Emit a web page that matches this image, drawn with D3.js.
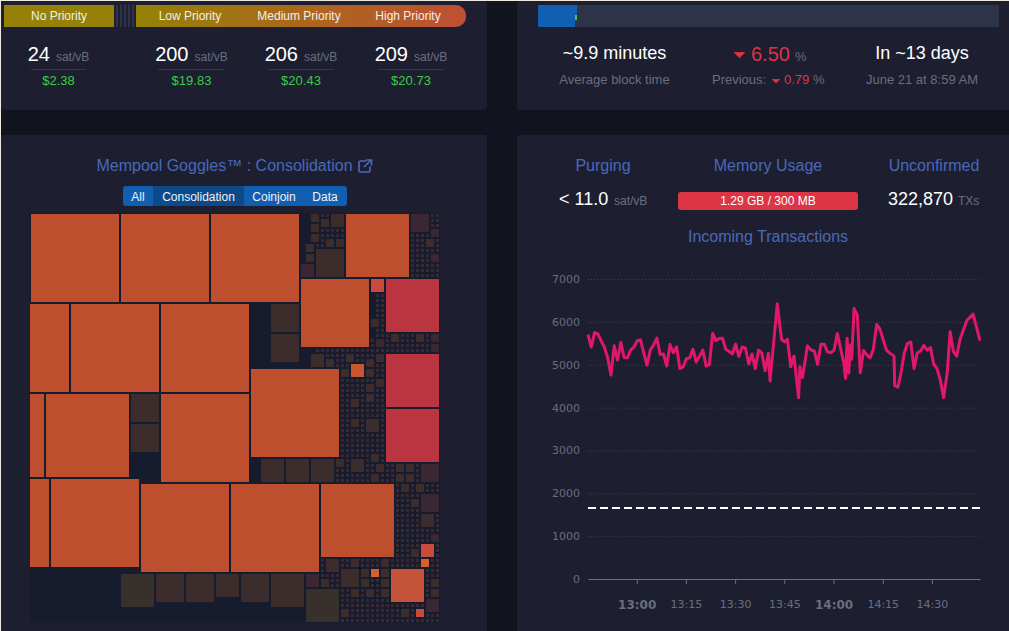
<!DOCTYPE html>
<html>
<head>
<meta charset="utf-8">
<script src="https://cdn.jsdelivr.net/npm/d3@7/dist/d3.min.js"></script>
<style>
  html, body { margin: 0; padding: 0; background: #11131f; overflow: hidden; }
  svg { display: block; font-family: "Liberation Sans", Arial, sans-serif; }
</style>
</head>
<body>
<script>
// fee estimates
const priorityLabels = ['No Priority', 'Low Priority', 'Medium Priority', 'High Priority'];
const feeRates = [24, 200, 206, 209];
const feeDollars = ['$2.38', '$19.83', '$20.43', '$20.73'];

// goggles blocks, in grid units: column, row, side and colour class
const blockCols = [0, 18, 36, 63, -10, 8, 26, -14, 3, 26, 44, 54, 71, 71, 71, -14, 4, 22, 40, 58,
  68, 64, 78, 78, 68, 72, 77,
  18, 25, 31, 37, 42, 48, 55, 55, 46, 51, 56, 48, 48, 20, 20, 57, 54, 55, 55, 56, 56, 56, 58, 60, 59, 61,
  76, 80, 79, 80, 68, 69, 72, 77, 80, 80, 56, 59, 63, 67, 69, 62, 67, 69, 67, 64, 67,
  64, 67, 61, 64, 68, 69, 73, 75, 78, 68, 73, 75, 74, 77, 76, 78, 78, 80, 76, 59, 64, 70,
  62, 66, 70, 66, 70, 58, 80, 80, 64, 67, 70, 79, 62, 74];
const blockRows = [0, 0, 0, 0, 18, 18, 18, 36, 36, 36, 31, 13, 13, 28, 39, 53, 53, 54, 54, 54,
  13, 30, 66, 69, 71, 71, 79,
  72, 72, 72, 72, 72, 72, 72, 75, 49, 49, 49, 18, 24, 36, 42, 7, 10, 6, 8, 0, 2, 4, 1, 0, 5, 5,
  0, 3, 5, 8, 21, 25, 24, 24, 24, 26, 28, 29, 28, 29, 28, 31, 31, 33, 34, 37, 36,
  41, 41, 49, 49, 48, 50, 50, 50, 50, 52, 52, 52, 54, 54, 57, 56, 60, 64, 67, 69, 69, 69,
  71, 71, 71, 73, 73, 73, 73, 75, 75, 75, 75, 77, 79, 79];
const blockSides = [18, 18, 18, 13, 18, 18, 18, 17, 17, 18, 18, 14, 11, 11, 11, 18, 18, 18, 18, 15,
  3, 3, 3, 2, 2, 7, 2,
  7, 6, 6, 5, 6, 7, 3, 7, 5, 5, 5, 6, 6, 6, 6, 6, 3, 2, 2, 2, 2, 2, 2, 3, 2, 2,
  4, 2, 2, 2, 2, 2, 2, 2, 2, 2, 3, 2, 2, 2, 2, 2, 2, 2, 2, 2, 2,
  2, 3, 2, 3, 2, 2, 2, 2, 4, 2, 2, 2, 2, 2, 2, 4, 3, 2, 2, 3, 2, 2,
  4, 2, 2, 2, 2, 2, 2, 2, 2, 2, 2, 3, 2, 2];
const blockKinds = ['o', 'o', 'o', 'o', 'o', 'o', 'o', 'o', 'o', 'o', 'o', 'o', 'r', 'r', 'r', 'o', 'o', 'o', 'o', 'o',
  'h', 'k', 'h', 'a', 'a', 'm', 'h',
  'g', 'b', 'b', 'b', 'b', 'b', 'p', 'g', 'b', 'b', 'b', 'b', 'b', 'b', 'b', 'b', 'p', 'b', 'b', 'b', 'b', 'b', 'b', 'b', 'b', 'b',
  'p', 'p', 'b', 'p', 'b', 'p', 'b', 'b', 'p', 'p', 'b', 'b', 'b', 'b', 'b', 'b', 'b', 'b', 'b', 'b', 'b',
  'b', 'b', 'b', 'b', 'b', 'b', 'b', 'b', 'p', 'b', 'b', 'b', 'b', 'b', 'b', 'p', 'b', 'p', 'b', 'b', 'b', 'b',
  'b', 'b', 'b', 'b', 'b', 'b', 'b', 'b', 'b', 'b', 'b', 'p', 'b', 'b'];

// stretches of the grid filled with one-unit transactions: first col, first row, last col, last row
const tinyStretches = [[58, 0, 62, 6], [57, 6, 57, 6], [76, 0, 81, 12], [69, 16, 70, 27], [68, 25, 68, 27],
  [71, 24, 81, 27], [57, 27, 70, 27], [62, 28, 70, 53], [59, 28, 61, 30], [61, 49, 61, 53], [71, 50, 81, 53],
  [73, 54, 81, 68], [58, 69, 81, 81]];
const tinyOlive = ['76,9', '78,5', '78,9', '79,10', '65,29', '74,58'];
const tinyPurple = ['62,34', '62,35', '62,42', '62,43', '62,44', '62,45', '59,72', '60,72', '63,77', '79,11'];

// incoming transactions, minutes after the left edge of the axis and vB/s
const sampleMinutes = [0, 1, 2, 3, 4, 5, 6, 7, 8, 9, 10, 11, 12, 13, 14, 15, 16, 17, 18, 19, 20, 21, 22, 23, 24, 25, 26, 27, 28, 29,
  30, 31, 32, 33, 35, 36, 37, 38, 39, 40, 41, 42, 43, 44, 45, 46, 47, 48, 49, 50, 51, 52, 53, 54, 55, 55.5, 57.7,
  59, 60, 60.8, 61.8, 62.8, 64.2, 64.6, 65.4, 66.9, 68, 69, 70, 71, 72, 73, 74, 75, 76, 77, 78, 78.5, 79, 79.5, 80, 80.4, 81.1, 82.1,
  83, 84, 85, 86, 87, 88, 89, 90, 91, 92, 93.3, 93.5, 94.5, 95.5, 96.4, 97.4, 98.4, 99.4, 100.4, 101.4, 102.4, 103.4, 104.4, 105.4,
  106.4, 107.4, 108.4, 109.5, 110.4, 111.4, 112.4, 113.4, 115.5, 117.4, 119.5];
const sampleRates = [5700, 5410, 5750, 5720, 5560, 5410, 5160, 4760, 5440, 5110, 5520, 5170, 5160, 5340, 5410, 5560, 5580, 5270, 4990, 5340,
  5460, 5620, 5240, 5250, 4970, 5470, 5280, 5420, 4910, 4950, 5140, 5160, 5360, 5060, 5340, 4970, 5000, 5730, 5560, 5610, 5620, 5360,
  5310, 5250, 5480, 5190, 5410, 5390, 5020, 5250, 4910, 5340, 5270, 4860, 5270, 4620, 6420,
  5590, 5530, 5590, 4950, 5200, 4230, 4950, 4700, 5440, 5340, 5320, 5010, 5480, 5480, 5300, 5280, 5340, 5730, 5380, 5030, 4680, 5620, 4800, 5460, 5130, 6310, 6160,
  4810, 5330, 5230, 5160, 5360, 5940, 5830, 5580, 5340, 5270, 5200, 4510, 4480, 4840, 5270, 5500, 5530, 4910, 5280, 5320, 5450, 5340, 5400, 5010,
  4910, 4640, 4230, 4800, 5770, 5310, 5200, 5590, 6030, 6180, 5560];
const purgingRate = 1657;
const rateTicks = [0, 1000, 2000, 3000, 4000, 5000, 6000, 7000];
const timeTicks = ['13:00', '13:15', '13:30', '13:45', '14:00', '14:15', '14:30'];

const width = 1009;
const height = 631;
const muted = '#6b6d7d';
const titleBlue = '#4a68b9';
const lossRed = '#dc3545';

const svg = d3.select('body').append('svg')
  .attr('width', width)
  .attr('height', height);

const defs = svg.append('defs');

const barGradient = defs.append('linearGradient').attr('id', 'feeGradient');
barGradient.append('stop').attr('offset', '0%').attr('stop-color', '#958107');
barGradient.append('stop').attr('offset', '100%').attr('stop-color', '#bf4f33');

const stripes = defs.append('pattern').attr('id', 'stripes')
  .attr('patternUnits', 'userSpaceOnUse')
  .attr('x', 116).attr('width', 4).attr('height', 4);
stripes.append('rect').attr('width', 4).attr('height', 4).attr('fill', '#1d1f31');
stripes.append('rect').attr('width', 2).attr('height', 4).attr('fill', '#2d3348');

defs.append('clipPath').attr('id', 'gogglesClip')
  .append('rect').attr('x', 30).attr('y', 213).attr('width', 410).attr('height', 410);

// page edge and panels
svg.append('rect').attr('width', width).attr('height', height).attr('fill', '#11131f');
svg.append('rect').attr('width', width).attr('height', 1).attr('fill', '#efeadd');
svg.append('rect').attr('width', 1).attr('height', height).attr('fill', '#efeadd');

const panels = [[1, 1, 486, 109], [517, 1, 500, 109], [1, 135, 486, 510], [517, 135, 500, 510]];
svg.append('g').selectAll('rect')
  .data(panels)
  .enter().append('rect')
  .attr('x', d => d[0])
  .attr('y', d => d[1])
  .attr('width', d => d[2])
  .attr('height', d => d[3])
  .attr('rx', 3)
  .attr('fill', '#1d1f31');

function label(parent, x, y, text, size, color, anchor) {
  return parent.append('text')
    .attr('x', x)
    .attr('y', y)
    .attr('font-size', size)
    .attr('fill', color)
    .attr('text-anchor', anchor || 'middle')
    .text(text);
}

// wide, soft-cornered down arrow
function caret(parent, x, y, size) {
  parent.append('path')
    .attr('d', d3.symbol().type(d3.symbolTriangle).size(size))
    .attr('transform', 'translate(' + x + ',' + y + ') rotate(180) scale(1.35,0.8)')
    .attr('fill', lossRed)
    .attr('stroke', lossRed)
    .attr('stroke-width', 0.8)
    .attr('stroke-linejoin', 'round');
}

// fee bar
const feePanel = svg.append('g').attr('class', 'fees');
feePanel.append('rect').attr('x', 4).attr('y', 5).attr('width', 110).attr('height', 22).attr('fill', '#958107');
feePanel.append('rect').attr('x', 115).attr('y', 5).attr('width', 20).attr('height', 22).attr('fill', 'url(#stripes)');
feePanel.append('path')
  .attr('d', 'M136,5H456a10,10 0 0 1 10,10v2a10,10 0 0 1 -10,10H136Z')
  .attr('fill', 'url(#feeGradient)');

const feeCenters = [58.5, 191.5, 301, 411];
const labelCenters = [59, 190, 299, 408];
priorityLabels.forEach((d, i) => label(feePanel, labelCenters[i], 20, d, 12, '#f2f0e6'));

feeRates.forEach((d, i) => {
  const t = label(feePanel, feeCenters[i], 61, d, 20, '#ffffff');
  t.append('tspan').attr('dx', 6).attr('font-size', 12).attr('fill', muted).text('sat/vB');
  const w = t.node().getComputedTextLength();
  feePanel.append('line')
    .attr('x1', feeCenters[i] - w / 2)
    .attr('x2', feeCenters[i] + w / 2)
    .attr('y1', 69.5)
    .attr('y2', 69.5)
    .attr('stroke', '#353748');
  label(feePanel, feeCenters[i], 85, feeDollars[i], 13, '#3bcc49');
});

// difficulty panel
const diffPanel = svg.append('g').attr('class', 'difficulty');
diffPanel.append('rect').attr('x', 538).attr('y', 5).attr('width', 461).attr('height', 22).attr('fill', '#2d3348');
diffPanel.append('rect').attr('x', 538).attr('y', 5).attr('width', 39).attr('height', 10).attr('fill', '#105fb0');
diffPanel.append('rect').attr('x', 538).attr('y', 15).attr('width', 37).attr('height', 12).attr('fill', '#105fb0');
diffPanel.append('rect').attr('x', 575).attr('y', 15).attr('width', 2).attr('height', 5).attr('fill', '#3bcc49');

label(diffPanel, 614.5, 59, '~9.9 minutes', 18, '#ffffff');
label(diffPanel, 614.5, 84, 'Average block time', 13, muted);
caret(diffPanel, 739.5, 54, 26);
label(diffPanel, 751, 61, '6.50', 20, lossRed, 'start');
label(diffPanel, 795, 61, '%', 13, muted, 'start');
label(diffPanel, 712, 84, 'Previous:', 13, muted, 'start');
caret(diffPanel, 776, 80.5, 11);
label(diffPanel, 784, 84, '0.79', 13, lossRed, 'start');
label(diffPanel, 813, 84, '%', 13, muted, 'start');
label(diffPanel, 922, 59, 'In ~13 days', 18, '#ffffff');
label(diffPanel, 922, 84, 'June 21 at 8:59 AM', 13, muted);

// goggles heading and buttons
const goggles = svg.append('g').attr('class', 'goggles');
label(goggles, 224.5, 171, 'Mempool Goggles™ : Consolidation', 16, titleBlue);
goggles.append('path')
  .attr('d', 'M366,161h-5.5a1.5,1.5 0 0 0 -1.5,1.5v8a1.5,1.5 0 0 0 1.5,1.5h8a1.5,1.5 0 0 0 1.5,-1.5v-4M364,167l7,-7M366,160h5.5v5.5')
  .attr('fill', 'none')
  .attr('stroke', titleBlue)
  .attr('stroke-width', 1.7);

const buttonNames = ['All', 'Consolidation', 'Coinjoin', 'Data'];
const buttonEdges = [123, 153, 244, 304, 346];
goggles.append('rect').attr('x', 123).attr('y', 186).attr('width', 224).attr('height', 20).attr('rx', 3).attr('fill', '#105fb0');
goggles.append('rect').attr('x', 153).attr('y', 186).attr('width', 91).attr('height', 20).attr('fill', '#0c4a89');
buttonNames.forEach((d, i) => {
  label(goggles, (buttonEdges[i] + buttonEdges[i + 1]) / 2, 200.5, d, 12, '#f0f2f7');
});

// goggles blocks
const gridX = d3.scaleLinear().domain([0, 82]).range([31, 441]);
const gridY = d3.scaleLinear().domain([0, 82]).range([214, 624]);
const blockColor = d3.scaleOrdinal()
  .domain(['o', 'r', 'h', 'a', 'k', 'm', 'b', 'g', 'p', 't', 'u', 'v'])
  .range(['#bd4f2e', '#bb3540', '#c94b3c', '#d4602f', '#c9562f', '#c4533a', '#3c2c2c', '#38302a', '#3b2633', '#38282f', '#39302a', '#44203d']);

const blocks = blockCols.map((c, i) => ({col: c, row: blockRows[i], side: blockSides[i], kind: blockKinds[i]}));

const taken = new Set();
blocks.forEach(b => {
  d3.range(b.col, b.col + b.side).forEach(c => {
    d3.range(b.row, b.row + b.side).forEach(r => taken.add(c + ',' + r));
  });
});

tinyStretches.forEach(s => {
  d3.range(s[0], s[2] + 1).forEach(c => {
    d3.range(s[1], s[3] + 1).forEach(r => {
      const key = c + ',' + r;
      if (taken.has(key)) return;
      taken.add(key);
      const kind = tinyOlive.includes(key) ? 'u' : tinyPurple.includes(key) ? 'v' : 't';
      blocks.push({col: c, row: r, side: 1, kind: kind});
    });
  });
});

goggles.append('rect').attr('x', 30).attr('y', 213).attr('width', 410).attr('height', 410).attr('fill', '#171b2e');
goggles.append('g')
  .attr('clip-path', 'url(#gogglesClip)')
  .selectAll('rect')
  .data(blocks)
  .enter().append('rect')
  .attr('x', d => gridX(d.col))
  .attr('y', d => gridY(d.row))
  .attr('width', d => gridX(d.side) - gridX(0) - 2)
  .attr('height', d => gridY(d.side) - gridY(0) - 2)
  .attr('fill', d => blockColor(d.kind));

// mempool stats
const stats = svg.append('g').attr('class', 'stats');
label(stats, 603, 171, 'Purging', 16, titleBlue);
label(stats, 768, 171, 'Memory Usage', 16, titleBlue);
label(stats, 934, 171, 'Unconfirmed', 16, titleBlue);

label(stats, 559, 205, '< 11.0', 18, '#ffffff', 'start');
label(stats, 614, 205, 'sat/vB', 12, muted, 'start');
stats.append('rect').attr('x', 678).attr('y', 192).attr('width', 180).attr('height', 18).attr('rx', 3).attr('fill', lossRed);
label(stats, 768, 204.5, '1.29 GB / 300 MB', 12, '#ffffff');
label(stats, 888, 205, '322,870', 18, '#ffffff', 'start');
label(stats, 958, 205, 'TXs', 12, muted, 'start');
label(stats, 768, 242, 'Incoming Transactions', 16, titleBlue);

// incoming transactions chart
const axisStart = new Date(2021, 5, 8, 12, 45, 9);
const minuteToDate = m => new Date(axisStart.getTime() + m * 60000);
const parseTick = d3.timeParse('%Y-%m-%d %H:%M');
const tickDates = timeTicks.map(d => parseTick('2021-06-08 ' + d));

const xScale = d3.scaleTime().domain([axisStart, minuteToDate(119.5)]).range([588, 980]);
const yScale = d3.scaleLinear().domain([0, 7000]).range([579, 279]);

const chart = svg.append('g').attr('class', 'chart');

chart.append('g')
  .selectAll('line')
  .data(rateTicks.filter(d => d > 0))
  .enter().append('line')
  .attr('x1', 588)
  .attr('x2', 980)
  .attr('y1', d => yScale(d) + 0.5)
  .attr('y2', d => yScale(d) + 0.5)
  .attr('stroke', '#3d3f52')
  .attr('stroke-dasharray', '1,2');

const yAxis = d3.axisLeft(yScale)
  .tickValues(rateTicks)
  .tickFormat(d3.format('d'))
  .tickSize(0)
  .tickPadding(0);
chart.append('g')
  .attr('transform', 'translate(580,0)')
  .call(yAxis)
  .call(g => g.select('.domain').remove())
  .selectAll('text')
  .attr('font-family', '"DejaVu Sans", sans-serif')
  .attr('font-size', 11)
  .attr('fill', muted);

const xAxis = d3.axisBottom(xScale)
  .tickValues(tickDates)
  .tickFormat(d3.timeFormat('%H:%M'))
  .tickSize(5)
  .tickSizeOuter(0)
  .tickPadding(16);
const xAxisGroup = chart.append('g')
  .attr('transform', 'translate(0,579)')
  .call(xAxis);
xAxisGroup.selectAll('.domain, line').attr('stroke', '#6e7079');
xAxisGroup.selectAll('text')
  .attr('font-family', '"DejaVu Sans", sans-serif')
  .attr('font-size', d => d.getMinutes() === 0 ? 12 : 11)
  .attr('font-weight', d => d.getMinutes() === 0 ? 'bold' : 'normal')
  .attr('fill', muted);

chart.append('line')
  .attr('x1', 588)
  .attr('x2', 980)
  .attr('y1', yScale(purgingRate))
  .attr('y2', yScale(purgingRate))
  .attr('stroke', '#ffffff')
  .attr('stroke-width', 2)
  .attr('stroke-dasharray', '8,4');

const rateLine = d3.line()
  .x((d, i) => xScale(minuteToDate(sampleMinutes[i])))
  .y(d => yScale(d));

chart.append('path')
  .datum(sampleRates)
  .attr('d', rateLine)
  .attr('fill', 'none')
  .attr('stroke', '#e1186a')
  .attr('stroke-width', 3)
  .attr('stroke-linejoin', 'round');
</script>
</body>
</html>
